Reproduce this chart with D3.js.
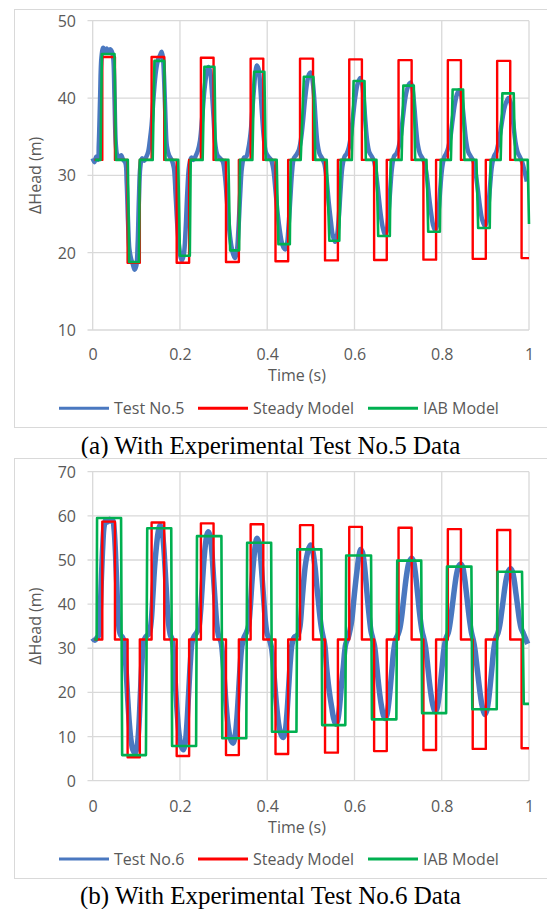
<!DOCTYPE html>
<html>
<head>
<meta charset="utf-8">
<script src="https://cdn.jsdelivr.net/npm/d3@7"></script>
<style>
  html, body { margin: 0; padding: 0; background: #fff; }
  svg { display: block; }
  text { font-family: "Open Sans", "Liberation Sans", sans-serif; }
</style>
</head>
<body>
<svg id="chart" width="547" height="909"></svg>
<script>
// ---------------- DATA ----------------
const timeTicks = [0, 0.2, 0.4, 0.6, 0.8, 1];
const timeTickLabels = ["0", "0.2", "0.4", "0.6", "0.8", "1"];
const headTicksA = [10, 20, 30, 40, 50];
const headTicksB = [0, 10, 20, 30, 40, 50, 60, 70];
const seriesNamesA = ["Test No.5", "Steady Model", "IAB Model"];
const seriesNamesB = ["Test No.6", "Steady Model", "IAB Model"];
const captionA = "(a) With Experimental Test No.5 Data";
const captionB = "(b) With Experimental Test No.6 Data";

// Steady model: step edges (s) shared by both tests
const steadyBase = 32;
const steadyRise     = [0.022, 0.135, 0.248, 0.362, 0.4752, 0.588, 0.701, 0.814, 0.927];
const steadyFall     = [0.051, 0.164, 0.277, 0.391, 0.505, 0.617, 0.731, 0.844, 0.957];
const steadyDipStart = [0.080, 0.1925, 0.3055, 0.419, 0.5325, 0.645, 0.758, 0.871, 0.983];
const steadyDipEnd   = [0.108, 0.221, 0.335, 0.448, 0.562, 0.674, 0.787, 0.901, 1.0];
const steadyHighA = [45.3, 45.3, 45.2, 45.1, 45.1, 45.0, 44.9, 44.9, 44.8];
const steadyLowA  = [18.7, 18.7, 18.8, 18.9, 19.0, 19.05, 19.1, 19.2, 19.3];
const steadyHighB = [58.7, 58.5, 58.3, 58.1, 57.9, 57.5, 57.3, 57.0, 56.8];
const steadyLowB  = [5.3, 5.6, 5.8, 6.05, 6.35, 6.7, 6.95, 7.2, 7.35];

// IAB model (t, head)
const iabA = [
 [0.005,32],[0.018,32],[0.021,45.7],[0.050,45.7],[0.0534,32],[0.0805,32],[0.0835,18.8],[0.106,18.8],[0.108,32],
 [0.1375,32],[0.1415,44.8],[0.164,44.8],[0.167,32],[0.196,32],[0.200,19.6],[0.2226,19.6],[0.2246,32],
 [0.252,32],[0.256,44.05],[0.279,44.05],[0.282,32],[0.311,32],[0.315,20.3],[0.3356,20.3],[0.3376,32],
 [0.366,32],[0.370,43.4],[0.3935,43.4],[0.3965,32],[0.4217,32],[0.4257,21.1],[0.4518,21.1],[0.4538,32],
 [0.4767,32],[0.484,42.75],[0.5057,42.75],[0.5103,32],[0.5363,32],[0.5424,21.55],[0.5652,21.55],[0.5684,32],
 [0.594,32],[0.598,42.2],[0.623,42.2],[0.626,32],[0.6504,32],[0.6544,22.15],[0.681,22.15],[0.683,32],
 [0.708,32],[0.712,41.6],[0.736,41.6],[0.739,32],[0.765,32],[0.769,22.7],[0.7956,22.7],[0.7976,32],
 [0.821,32],[0.825,41.1],[0.849,41.1],[0.852,32],[0.8795,32],[0.8835,23.2],[0.910,23.2],[0.912,32],
 [0.935,32],[0.939,40.6],[0.965,40.6],[0.968,32],[0.997,32],[1.0,23.7]
];
const iabB = [
 [0.004,32],[0.009,32],[0.010,59.5],[0.065,59.5],[0.0675,5.8],[0.122,5.8],[0.125,57.2],[0.180,57.2],[0.182,7.85],
 [0.237,7.85],[0.239,55.4],[0.295,55.4],[0.297,9.6],[0.352,9.6],[0.354,53.9],[0.409,53.9],[0.411,11.1],
 [0.467,11.1],[0.469,52.4],[0.524,52.4],[0.526,12.6],[0.579,12.6],[0.581,51.0],[0.638,51.0],[0.640,13.9],
 [0.696,13.9],[0.698,49.85],[0.753,49.85],[0.755,15.3],[0.810,15.3],[0.812,48.5],[0.868,48.5],[0.870,16.2],
 [0.926,16.2],[0.928,47.35],[0.984,47.35],[0.988,17.4],[1.0,17.4]
];

// Experimental test data (t, head)
const test5 = [
 [0.000,32.2],[0.004,31.7],[0.008,32.4],[0.012,32.0],[0.014,34],[0.017,40],[0.020,45.2],[0.024,46.5],[0.028,46.0],[0.032,46.4],[0.036,45.9],[0.040,46.3],[0.044,46.0],[0.047,45.2],[0.050,40],[0.053,34],[0.056,32.6],[0.060,32.2],[0.065,32.6],[0.070,32.0],[0.075,31.6],[0.078,29],[0.081,24],[0.084,20.5],[0.088,19.2],[0.092,18.5],[0.096,17.8],[0.100,18.3],[0.103,21],[0.106,27],[0.109,31],[0.113,32.2],[0.118,31.9],[0.123,32.4],
 [0.127,33.0],[0.131,34.5],[0.135,36.5],[0.140,40.5],[0.145,43.5],[0.150,45.0],[0.155,45.6],[0.158,46.0],[0.161,45.2],[0.164,42],[0.167,37],[0.170,33.8],[0.175,32.6],[0.181,32.0],[0.186,31.0],[0.190,27.5],[0.194,23.5],[0.198,20.8],[0.202,19.3],[0.205,19.0],[0.209,19.8],[0.213,23],[0.217,28],[0.221,31.2],[0.226,32.3],[0.231,32.0],
 [0.236,32.5],[0.241,33.2],[0.246,34.5],[0.251,37.5],[0.256,41],[0.261,43.2],[0.265,44.0],[0.269,43.5],[0.273,41],[0.277,37.5],[0.281,34],[0.286,32.6],[0.292,32.2],[0.298,31.8],[0.303,30],[0.308,26.5],[0.313,23],[0.318,20.8],[0.322,19.8],[0.326,19.3],[0.330,20],[0.334,23],[0.338,27.5],[0.342,31],[0.347,32.3],
 [0.352,32.4],[0.357,33.5],[0.362,35.5],[0.366,38.5],[0.370,41.5],[0.373,43.3],[0.376,44.2],[0.380,43.8],[0.384,41.5],[0.388,38],[0.392,35],[0.397,33],[0.403,32.4],[0.409,32.0],[0.414,30.8],[0.419,28],[0.424,25],[0.429,22.8],[0.434,21.2],[0.438,20.6],[0.441,20.4],[0.445,21],[0.449,23.5],[0.453,27],[0.457,30.5],[0.461,32.2],
 [0.466,32.6],[0.472,33.2],[0.477,34.5],[0.482,37],[0.487,40],[0.492,42.2],[0.496,43.1],[0.499,43.3],[0.503,42.6],[0.507,40.5],[0.511,37],[0.515,34.2],[0.520,32.8],[0.526,32.2],[0.531,31.5],[0.536,29.5],[0.541,26.5],[0.546,24],[0.550,22.3],[0.5555,21.4],[0.560,22.2],[0.564,24.5],[0.568,28],[0.572,31],[0.577,32.4],
 [0.582,32.8],[0.587,33.6],[0.592,35.2],[0.597,37.8],[0.602,40.2],[0.607,41.8],[0.613,42.6],[0.617,42.0],[0.621,40],[0.625,37],[0.629,34.5],[0.634,33],[0.640,32.4],[0.645,31.8],[0.650,30],[0.655,27.5],[0.660,25],[0.665,23.2],[0.670,22.3],[0.674,22.8],[0.678,25],[0.682,28.2],[0.686,31],[0.691,32.5],
 [0.696,32.8],[0.701,33.6],[0.706,35],[0.711,37.5],[0.716,39.8],[0.721,41.2],[0.725,41.8],[0.729,42.0],[0.733,41.2],[0.737,39],[0.741,36.2],[0.745,34],[0.750,32.8],[0.756,32.2],[0.761,31.5],[0.766,29.8],[0.771,27.2],[0.776,25],[0.780,23.6],[0.7846,22.9],[0.789,23.5],[0.793,25.5],[0.797,28.5],[0.801,31],[0.806,32.4],
 [0.810,32.8],[0.815,33.6],[0.820,35],[0.825,37.2],[0.830,39.2],[0.835,40.5],[0.840,41.0],[0.844,40.5],[0.848,38.8],[0.852,36.5],[0.856,34.4],[0.861,33],[0.867,32.4],[0.873,31.8],[0.878,30.2],[0.883,28],[0.888,25.8],[0.893,24.2],[0.899,23.4],[0.903,24],[0.907,26],[0.911,28.8],[0.915,31.2],[0.920,32.5],
 [0.925,33.0],[0.930,34.2],[0.935,35.8],[0.940,37.6],[0.945,39],[0.9526,40.0],[0.957,39.6],[0.961,38.2],[0.965,36.2],[0.969,34.3],[0.974,33],[0.980,32.3],[0.985,31.6],[0.990,30.5],[0.995,29.2]
];
const test6 = [
 [0.000,32.3],[0.005,31.8],[0.010,32.4],[0.014,33],[0.017,38],[0.020,46],[0.023,53],[0.026,57.5],[0.030,59.1],[0.034,58.6],[0.038,59.2],[0.042,58.8],[0.046,59.0],[0.049,57],[0.052,52],[0.055,45],[0.058,38],[0.061,34],[0.064,33],[0.068,32.5],[0.072,31.5],[0.076,26],[0.080,19],[0.084,13],[0.088,9],[0.092,7],[0.097,6.2],[0.101,7.2],[0.105,11],[0.109,19],[0.113,27],[0.117,31.5],[0.121,32.5],[0.126,33],
 [0.130,33.5],[0.134,36],[0.138,42],[0.142,48.5],[0.146,53],[0.150,56.3],[0.154,57.8],[0.158,57.2],[0.162,54],[0.166,48],[0.170,41],[0.174,35.5],[0.178,33],[0.182,32],[0.186,28],[0.190,21],[0.194,15],[0.198,10.5],[0.203,7.8],[0.208,7.0],[0.212,8.5],[0.216,13],[0.220,20],[0.224,27],[0.228,31.5],[0.233,32.8],[0.238,33.5],
 [0.243,34.5],[0.247,38],[0.251,44],[0.255,50],[0.259,54],[0.262,55.8],[0.265,56.4],[0.269,55.5],[0.273,52],[0.277,46],[0.281,40],[0.285,35],[0.289,32.6],[0.294,31.5],[0.298,28],[0.302,22.5],[0.306,17],[0.310,12.8],[0.314,10.2],[0.318,8.9],[0.322,8.5],[0.326,9.8],[0.330,13.5],[0.334,19.5],[0.338,26],[0.342,30.5],[0.347,32.5],[0.352,33.5],
 [0.357,35],[0.361,39],[0.365,45],[0.369,50],[0.373,53.5],[0.376,54.9],[0.380,54.3],[0.384,51.5],[0.388,46.5],[0.392,41],[0.396,36],[0.400,33.2],[0.405,32],[0.410,30],[0.414,26],[0.418,21],[0.422,16.5],[0.426,13],[0.430,11],[0.434,10],[0.437,9.8],[0.441,11],[0.445,15],[0.449,21],[0.453,27],[0.457,31],[0.462,32.5],[0.467,32.8],
 [0.471,33.2],[0.4752,35],[0.479,39.5],[0.483,44.5],[0.487,48.5],[0.4905,50.7],[0.495,52.6],[0.4997,53.4],[0.504,52.2],[0.5095,48.5],[0.513,44.8],[0.517,40.9],[0.521,37],[0.525,34.1],[0.529,32.2],[0.5324,30.4],[0.536,25.8],[0.540,22],[0.544,19],[0.548,16.5],[0.552,14.2],[0.557,12.8],[0.561,13.5],[0.565,16],[0.570,21.5],[0.5744,25.8],[0.580,31],[0.586,32.5],
 [0.590,34.2],[0.594,36.5],[0.598,40.5],[0.6015,43.9],[0.606,47.8],[0.610,50.8],[0.614,52.4],[0.618,51.8],[0.622,49.5],[0.626,45.5],[0.630,41],[0.634,37],[0.638,33.8],[0.642,32.2],[0.646,30.5],[0.650,27],[0.654,23],[0.658,19.5],[0.662,16.8],[0.666,14.9],[0.670,14.1],[0.674,14.8],[0.678,17.2],[0.682,21],[0.686,25.5],[0.690,29.5],[0.695,32.2],[0.700,33.2],
 [0.704,34.5],[0.708,37],[0.712,40.5],[0.716,44],[0.720,47],[0.725,49.5],[0.731,50.4],[0.735,49.8],[0.739,47.5],[0.743,44],[0.747,40],[0.751,36.5],[0.755,33.8],[0.759,32.2],[0.763,30.2],[0.767,26.8],[0.771,23],[0.775,19.8],[0.779,17.4],[0.7846,15.6],[0.789,16.3],[0.793,18.5],[0.797,22],[0.801,26],[0.805,29.8],[0.810,32.3],[0.815,33.5],
 [0.818,35],[0.822,37.8],[0.826,41],[0.830,44.2],[0.834,46.8],[0.839,48.6],[0.8435,49.1],[0.848,48.4],[0.852,46.2],[0.856,43],[0.860,39.5],[0.864,36.2],[0.868,33.6],[0.872,32],[0.876,29.8],[0.880,26.5],[0.884,23],[0.888,19.8],[0.892,17.2],[0.896,15.6],[0.899,15.0],[0.903,15.8],[0.907,18],[0.911,21.5],[0.915,25.5],[0.919,29.5],[0.924,32.3],[0.929,33.5],
 [0.933,35.2],[0.937,38],[0.941,41],[0.945,44],[0.949,46.2],[0.953,47.5],[0.958,48.0],[0.962,47.4],[0.966,45.5],[0.970,42.5],[0.974,39.5],[0.978,36.5],[0.982,34.5],[0.987,33.4],[0.992,32.2],[0.997,31.0]
];

// ---------------- DRAWING ----------------
const COLORS = { test: "#4a78c0", steady: "#ff0000", iab: "#00b050" };
const GRID = "#d9d9d9";
const TEXT = "#595959";
const svg = d3.select("#chart");
svg.append("rect").attr("width", 547).attr("height", 909).attr("fill", "#fff");

function steadySeries(highs, lows) {
  const pts = [[0.004, steadyBase]];
  for (let i = 0; i < steadyRise.length; i++) {
    pts.push([steadyRise[i], steadyBase], [steadyRise[i], highs[i]],
             [steadyFall[i], highs[i]], [steadyFall[i], steadyBase],
             [steadyDipStart[i], steadyBase], [steadyDipStart[i], lows[i]],
             [steadyDipEnd[i], lows[i]]);
    if (steadyDipEnd[i] < 1) pts.push([steadyDipEnd[i], steadyBase]);
  }
  return pts;
}

function panel(cfg) {
  const g = svg.append("g");
  // outer frame
  g.append("rect").attr("x", 14.5).attr("y", cfg.frameTop + 0.5)
    .attr("width", 600).attr("height", cfg.frameH)
    .attr("fill", "none").attr("stroke", GRID).attr("stroke-width", 1);

  const x = d3.scaleLinear().domain([0, 1]).range([92.7, 529]);
  const y = d3.scaleLinear().domain(cfg.yDomain).range([cfg.yBottom, cfg.yTop]);

  // horizontal grid + y ticks (extend left as tick marks)
  g.append("g").selectAll("line").data(cfg.yTicks).join("line")
    .attr("x1", 87.5).attr("x2", x(1))
    .attr("y1", d => y(d)).attr("y2", d => y(d))
    .attr("stroke", GRID).attr("stroke-width", 1.3);
  // vertical grid
  g.append("g").selectAll("line").data(timeTicks).join("line")
    .attr("x1", d => x(d)).attr("x2", d => x(d))
    .attr("y1", y(cfg.yDomain[0])).attr("y2", y(cfg.yDomain[1]))
    .attr("stroke", GRID).attr("stroke-width", 1.3);

  // y tick labels via axis generator
  const yAxis = d3.axisLeft(y).tickValues(cfg.yTicks).tickSize(0).tickPadding(0);
  const ya = g.append("g").attr("transform", `translate(${76},0)`).call(yAxis);
  ya.select(".domain").remove();
  ya.selectAll("text").attr("fill", TEXT).style("font-size", "16px")
    .style("font-family", '"Open Sans", sans-serif').attr("dy", "0.34em");

  // x tick labels
  const xAxis = d3.axisBottom(x).tickValues(timeTicks)
    .tickFormat((d, i) => timeTickLabels[i]).tickSize(0).tickPadding(0);
  const xa = g.append("g").attr("transform", `translate(0,${cfg.xLabelBase})`).call(xAxis);
  xa.select(".domain").remove();
  xa.selectAll("text").attr("fill", TEXT).style("font-size", "16px")
    .style("font-family", '"Open Sans", sans-serif').attr("dy", "0").attr("y", 0);

  // axis titles
  g.append("text").attr("x", 297).attr("y", cfg.xTitleBase).attr("text-anchor", "middle")
    .attr("fill", TEXT).style("font-size", "16px").text("Time (s)");
  g.append("text")
    .attr("transform", `translate(41,${(cfg.yTop + cfg.yBottom) / 2}) rotate(-90)`)
    .attr("text-anchor", "middle").attr("fill", TEXT).style("font-size", "16px")
    .text("ΔHead (m)");

  const line = d3.line().x(d => x(d[0])).y(d => y(d[1]));
  const plot = g.append("g");
  plot.append("path").datum(cfg.test).attr("d", line.curve(d3.curveCatmullRom.alpha(0.5)))
    .attr("fill", "none").attr("stroke", COLORS.test).attr("stroke-width", cfg.testWidth)
    .attr("stroke-linejoin", "round");
  const lineStep = d3.line().x(d => x(d[0])).y(d => y(d[1]));
  plot.append("path").datum(cfg.steady).attr("d", lineStep)
    .attr("fill", "none").attr("stroke", COLORS.steady).attr("stroke-width", 2.4)
    .attr("stroke-linejoin", "round");
  plot.append("path").datum(cfg.iab).attr("d", lineStep)
    .attr("fill", "none").attr("stroke", COLORS.iab).attr("stroke-width", 2.6)
    .attr("stroke-linejoin", "round");

  // legend
  const legX = [59, 198, 368];
  const legCol = [COLORS.test, COLORS.steady, COLORS.iab];
  const leg = g.append("g");
  cfg.names.forEach((n, i) => {
    leg.append("line").attr("x1", legX[i]).attr("x2", legX[i] + 50)
      .attr("y1", cfg.legendY).attr("y2", cfg.legendY)
      .attr("stroke", legCol[i]).attr("stroke-width", 3);
    leg.append("text").attr("x", legX[i] + 55).attr("y", cfg.legendY + 5.5)
      .attr("fill", TEXT).style("font-size", "16px").text(n);
  });

  // caption
  g.append("text").attr("x", 270.5).attr("y", cfg.captionBase).attr("text-anchor", "middle")
    .attr("fill", "#000").style("font-family", '"Liberation Serif", "Times New Roman", serif')
    .style("font-size", "25px").text(cfg.caption);
}

panel({
  frameTop: 9, frameH: 418,
  yDomain: [10, 50], yTicks: headTicksA, yTop: 20.7, yBottom: 330,
  xLabelBase: 360, xTitleBase: 381, legendY: 408.3, captionBase: 453.5,
  test: test5, testWidth: 4.5, steady: steadySeries(steadyHighA, steadyLowA), iab: iabA,
  names: seriesNamesA, caption: captionA
});
panel({
  frameTop: 458, frameH: 420,
  yDomain: [0, 70], yTicks: headTicksB, yTop: 471.7, yBottom: 780.7,
  xLabelBase: 811.5, xTitleBase: 832.5, legendY: 859, captionBase: 903.5,
  test: test6, testWidth: 5.5, steady: steadySeries(steadyHighB, steadyLowB), iab: iabB,
  names: seriesNamesB, caption: captionB
});
</script>
</body>
</html>
